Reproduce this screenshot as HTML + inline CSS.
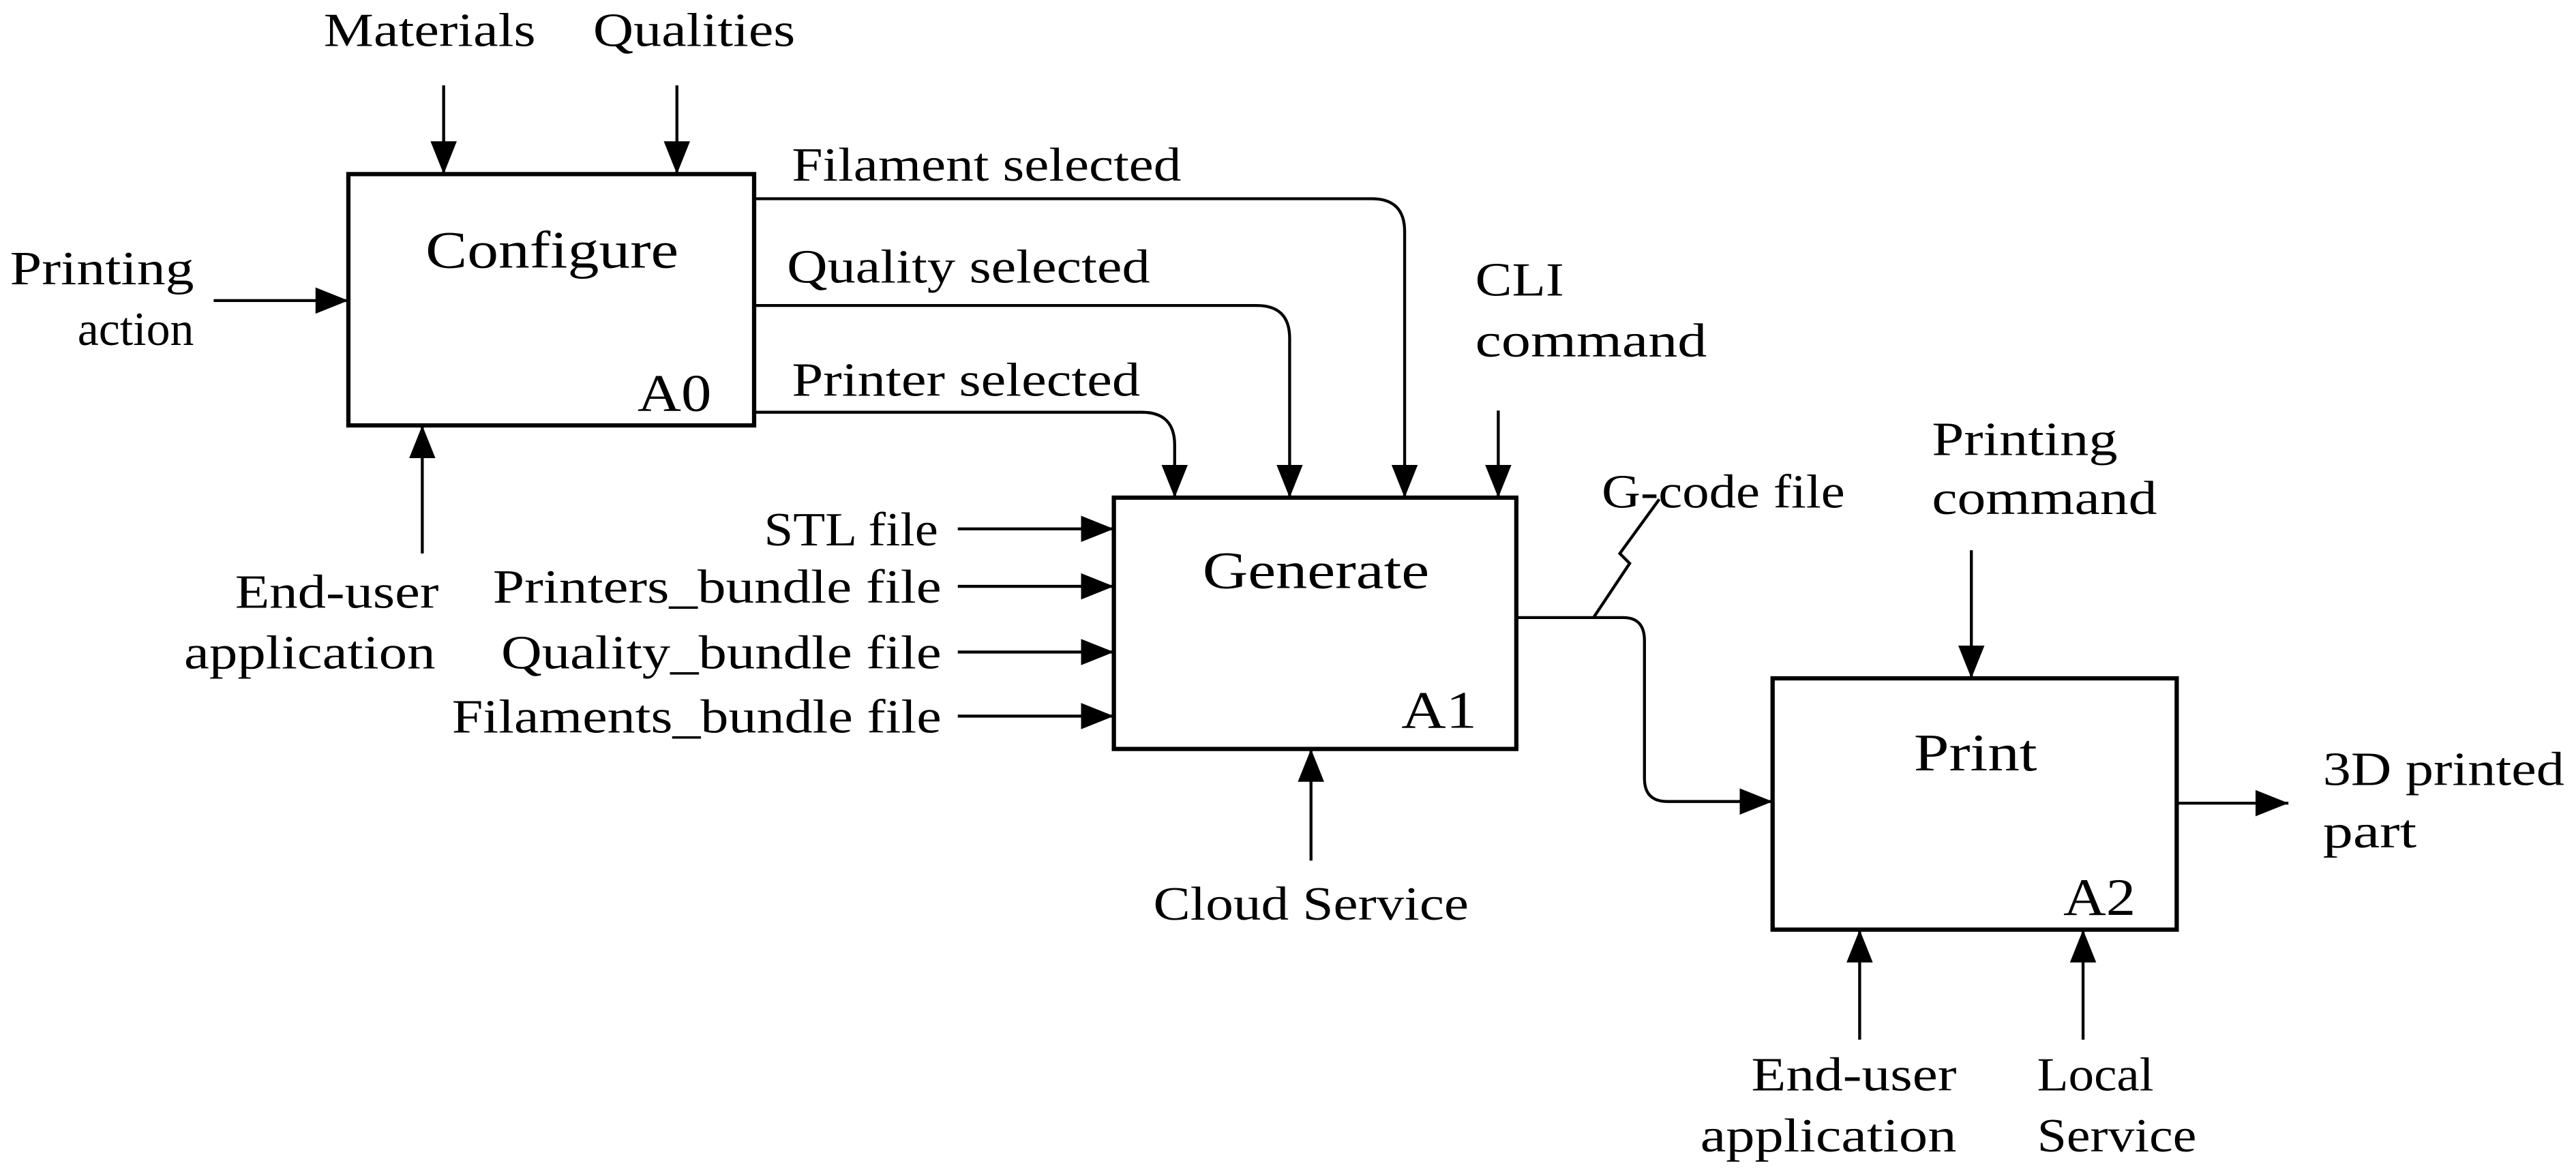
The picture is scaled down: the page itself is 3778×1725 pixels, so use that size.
<!DOCTYPE html>
<html><head><meta charset="utf-8"><style>html,body{margin:0;padding:0;background:#fff}svg{display:block}text{font-family:"Liberation Serif",serif}</style></head>
<body>
<svg width="3778" height="1725" viewBox="0 0 1568 716" xmlns="http://www.w3.org/2000/svg" style="font-family:'Liberation Serif',serif" font-size="29" fill="#000">
<defs><marker id="a" viewBox="0 0 20 16" refX="20" refY="8" markerWidth="20" markerHeight="16" markerUnits="userSpaceOnUse" orient="auto"><path d="M0,0L20,8L0,16z" fill="#000"/></marker></defs>
<g fill="none" stroke="#000" stroke-width="2.6">
<rect x="212" y="106" width="247" height="153"/>
<rect x="678" y="303" width="245" height="153"/>
<rect x="1079" y="413" width="246" height="153"/>
</g>
<g fill="none" stroke="#000" stroke-width="1.8" marker-end="url(#a)">
<path d="M270,52V106"/><path d="M412,52V106"/>
<path d="M130,183H212"/><path d="M257,337V259"/>
<path d="M459,121H835Q855,121 855,141V303"/>
<path d="M459,186H765Q785,186 785,206V303"/>
<path d="M459,251H695Q715,251 715,271V303"/>
<path d="M912,250V303"/>
<path d="M583,322H678"/><path d="M583,357H678"/><path d="M583,397H678"/><path d="M583,436H678"/>
<path d="M798,524V456"/>
<path d="M923,376H988Q1001,376 1001,390V474Q1001,488 1015,488H1079"/>
<path d="M1200,335V413"/>
<path d="M1325,489H1393"/>
<path d="M1132,633V566"/><path d="M1268,633V566"/>
</g>
<path d="M970,376L992,343L986,337L1010,304" fill="none" stroke="#000" stroke-width="1.8"/>
<g>
<text x="197" y="28" textLength="129" lengthAdjust="spacingAndGlyphs">Materials</text>
<text x="361" y="28" textLength="123" lengthAdjust="spacingAndGlyphs">Qualities</text>
<text x="6" y="173" textLength="112" lengthAdjust="spacingAndGlyphs">Printing</text>
<text x="118" y="210" text-anchor="end">action</text>
<text x="143" y="370" textLength="124" lengthAdjust="spacingAndGlyphs">End-user</text>
<text x="112" y="407" textLength="153" lengthAdjust="spacingAndGlyphs">application</text>
<text x="259" y="163" font-size="32" textLength="154" lengthAdjust="spacingAndGlyphs">Configure</text>
<text x="388" y="250" font-size="32" textLength="45" lengthAdjust="spacingAndGlyphs">A0</text>
<text x="482" y="110" textLength="237" lengthAdjust="spacingAndGlyphs">Filament selected</text>
<text x="479" y="172" textLength="221" lengthAdjust="spacingAndGlyphs">Quality selected</text>
<text x="482" y="241" textLength="212" lengthAdjust="spacingAndGlyphs">Printer selected</text>
<text x="898" y="180" textLength="54" lengthAdjust="spacingAndGlyphs">CLI</text>
<text x="898" y="217" textLength="141" lengthAdjust="spacingAndGlyphs">command</text>
<text x="465" y="332" textLength="106" lengthAdjust="spacingAndGlyphs">STL file</text>
<text x="300" y="367" textLength="273" lengthAdjust="spacingAndGlyphs">Printers_bundle file</text>
<text x="305" y="407" textLength="268" lengthAdjust="spacingAndGlyphs">Quality_bundle file</text>
<text x="275" y="446" textLength="298" lengthAdjust="spacingAndGlyphs">Filaments_bundle file</text>
<text x="732" y="358" font-size="32" textLength="138" lengthAdjust="spacingAndGlyphs">Generate</text>
<text x="853" y="443" font-size="32" textLength="46" lengthAdjust="spacingAndGlyphs">A1</text>
<text x="702" y="560" textLength="192" lengthAdjust="spacingAndGlyphs">Cloud Service</text>
<text x="975" y="309" textLength="148" lengthAdjust="spacingAndGlyphs">G-code file</text>
<text x="1176" y="277" textLength="113" lengthAdjust="spacingAndGlyphs">Printing</text>
<text x="1176" y="313" textLength="137" lengthAdjust="spacingAndGlyphs">command</text>
<text x="1165" y="469" font-size="32" textLength="75" lengthAdjust="spacingAndGlyphs">Print</text>
<text x="1256" y="557" font-size="32" textLength="44" lengthAdjust="spacingAndGlyphs">A2</text>
<text x="1414" y="478" textLength="147" lengthAdjust="spacingAndGlyphs">3D printed</text>
<text x="1414" y="516" textLength="57" lengthAdjust="spacingAndGlyphs">part</text>
<text x="1066" y="664" textLength="125" lengthAdjust="spacingAndGlyphs">End-user</text>
<text x="1035" y="701" textLength="156" lengthAdjust="spacingAndGlyphs">application</text>
<text x="1240" y="664" textLength="71" lengthAdjust="spacingAndGlyphs">Local</text>
<text x="1240" y="701" textLength="97" lengthAdjust="spacingAndGlyphs">Service</text>
</g>
</svg>
</body></html>
